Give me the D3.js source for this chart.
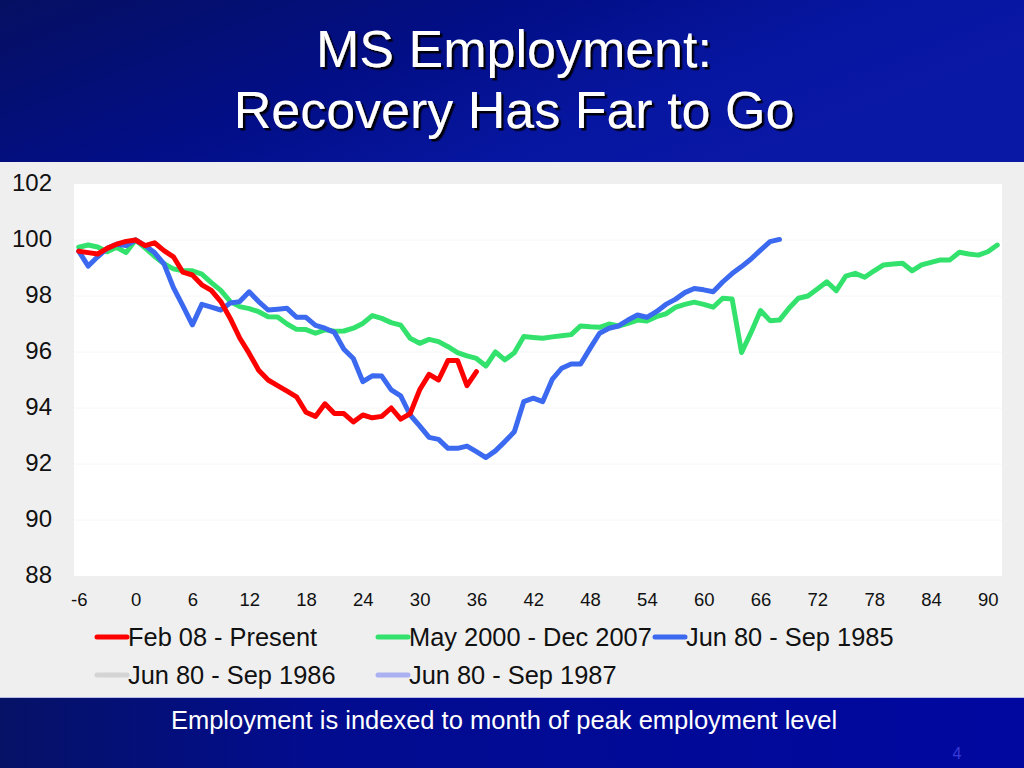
<!DOCTYPE html>
<html><head><meta charset="utf-8">
<script src="https://cdn.jsdelivr.net/npm/d3@7"></script>
<style>
html,body{margin:0;padding:0;background:#efefef;}
svg{display:block;font-family:"Liberation Sans",Arial,sans-serif;}
</style></head>
<body><svg id="c" width="1024" height="768"></svg>
<script>
// ---- data ----
const titleLines = ["MS Employment:", "Recovery Has Far to Go"];
const footnote = "Employment is indexed to month of peak employment level";
const pageNumber = "4";
const startMonth = -6;
const months = d3.range(-6, 92); // category axis -6 .. 91
const xTickLabels = [-6, 0, 6, 12, 18, 24, 30, 36, 42, 48, 54, 60, 66, 72, 78, 84, 90];
const yTickLabels = [88, 90, 92, 94, 96, 98, 100, 102];
const seriesNames = ["Feb 08 - Present", "May 2000 - Dec 2007", "Jun 80 - Sep 1985", "Jun 80 - Sep 1986", "Jun 80 - Sep 1987"];
const seriesColors = ["#ff0000", "#33e26c", "#3b69f0", "#d4d4d4", "#aab0f2"];

const feb08 = [99.6, 99.55, 99.5, 99.7, 99.85, 99.95, 100, 99.8, 99.9, 99.62, 99.4, 98.85, 98.75, 98.4, 98.2, 97.8, 97.2, 96.5, 95.95, 95.35, 95.0, 94.8, 94.6, 94.4, 93.85, 93.7, 94.15, 93.8, 93.8, 93.5, 93.75, 93.65, 93.7, 94.0, 93.6, 93.8, 94.65, 95.2, 95.0, 95.7, 95.7, 94.8, 95.3];
const may2000 = [99.74, 99.82, 99.75, 99.58, 99.74, 99.55, 100, 99.72, 99.42, 99.15, 98.97, 98.9, 98.9, 98.78, 98.48, 98.2, 97.8, 97.62, 97.55, 97.44, 97.26, 97.25, 97.0, 96.81, 96.8, 96.67, 96.79, 96.74, 96.75, 96.85, 97.02, 97.3, 97.2, 97.05, 96.96, 96.49, 96.31, 96.45, 96.37, 96.19, 95.98, 95.86, 95.77, 95.5, 96.0, 95.72, 95.97, 96.55, 96.52, 96.49, 96.54, 96.58, 96.62, 96.93, 96.9, 96.88, 97.0, 96.93, 97.02, 97.14, 97.11, 97.26, 97.36, 97.59, 97.7, 97.78, 97.7, 97.6, 97.92, 97.89, 95.98, 96.7, 97.48, 97.12, 97.14, 97.56, 97.92, 98.0, 98.25, 98.51, 98.19, 98.71, 98.81, 98.67, 98.9, 99.11, 99.14, 99.17, 98.9, 99.11, 99.2, 99.29, 99.29, 99.56, 99.5, 99.46, 99.58, 99.82];
const jun80_85 = [99.6, 99.07, 99.4, 99.7, 99.85, 99.8, 100, 99.8, 99.55, 99.15, 98.3, 97.65, 96.97, 97.7, 97.6, 97.5, 97.75, 97.8, 98.15, 97.8, 97.5, 97.53, 97.56, 97.24, 97.24, 96.95, 96.85, 96.7, 96.1, 95.77, 94.94, 95.15, 95.14, 94.65, 94.43, 93.75, 93.36, 92.95, 92.88, 92.56, 92.56, 92.64, 92.44, 92.23, 92.47, 92.8, 93.15, 94.23, 94.35, 94.23, 95.02, 95.42, 95.57, 95.57, 96.13, 96.67, 96.85, 96.93, 97.14, 97.32, 97.24, 97.44, 97.7, 97.88, 98.12, 98.27, 98.22, 98.15, 98.5, 98.8, 99.05, 99.32, 99.64, 99.94, 100.02];
const jun80_86 = [];
const jun80_87 = [];
const seriesValues = [feb08, may2000, jun80_85, jun80_86, jun80_87];

// ---- drawing ----
const svg = d3.select("#c");
const W = 1024, H = 768;
const defs = svg.append("defs");
const g1 = defs.append("linearGradient").attr("id", "topg").attr("x1", "0").attr("x2", "1").attr("y1", "0").attr("y2", "0.4");
g1.append("stop").attr("offset", "0").attr("stop-color", "#061062");
g1.append("stop").attr("offset", "0.45").attr("stop-color", "#020e86");
g1.append("stop").attr("offset", "0.75").attr("stop-color", "#0716a0");
g1.append("stop").attr("offset", "1").attr("stop-color", "#0a18a6");
const g2 = defs.append("linearGradient").attr("id", "botg").attr("x1", "0").attr("x2", "1").attr("y1", "0").attr("y2", "0");
g2.append("stop").attr("offset", "0").attr("stop-color", "#061266");
g2.append("stop").attr("offset", "0.3").attr("stop-color", "#020c8e");
g2.append("stop").attr("offset", "1").attr("stop-color", "#0008a0");
const shadow = defs.append("filter").attr("id", "tshadow").attr("x", "-5%").attr("y", "-20%").attr("width", "110%").attr("height", "140%");
shadow.append("feDropShadow").attr("dx", 2.5).attr("dy", 2.5).attr("stdDeviation", 0.6)
  .attr("flood-color", "#000010").attr("flood-opacity", 1);

svg.append("rect").attr("width", W).attr("height", H).attr("fill", "#efefef");
svg.append("rect").attr("x", 0).attr("y", 0).attr("width", W).attr("height", 162).attr("fill", "url(#topg)");
svg.append("rect").attr("x", 0).attr("y", 698).attr("width", W).attr("height", 70).attr("fill", "url(#botg)");
svg.append("line").attr("x1", 0).attr("x2", W).attr("y1", 697.5).attr("y2", 697.5).attr("stroke", "#b8bce6").attr("stroke-width", 1);

// title with shadow
titleLines.forEach((t, i) => {
  const ty = 67 + i * 61;
  svg.append("text").attr("x", 514).attr("y", ty).attr("text-anchor", "middle")
    .attr("font-size", 52).attr("fill", "#ffffff").attr("filter", "url(#tshadow)").text(t);
});

// plot
const pLeft = 74, pRight = 1002, pTop = 184, pBottom = 576;
const x = d3.scalePoint().domain(months).range([pLeft, pRight]).padding(0.5);
const y = d3.scaleLinear().domain([88, 102]).range([pBottom, pTop]);

svg.append("rect").attr("x", pLeft).attr("y", pTop).attr("width", pRight - pLeft).attr("height", pBottom - pTop).attr("fill", "#ffffff");
svg.append("g").selectAll("line").data(yTickLabels.slice(1, -1)).join("line")
  .attr("x1", pLeft).attr("x2", pRight).attr("y1", d => y(d)).attr("y2", d => y(d))
  .attr("stroke", "#f6f6f6").attr("stroke-width", 1);

// axes via d3 axis generators
const yAxis = d3.axisLeft(y).tickValues(yTickLabels).tickSize(0).tickPadding(0);
const yg = svg.append("g").attr("transform", "translate(52,0)").call(yAxis);
yg.select(".domain").remove();
yg.selectAll("text").attr("font-size", 24).attr("fill", "#111").attr("font-family", "Liberation Sans, Arial, sans-serif").attr("dy", "0.32em").attr("dx", 0).attr("transform", "translate(0,-1)");

const xAxis = d3.axisBottom(x).tickValues(xTickLabels).tickSize(0).tickPadding(0);
const xg = svg.append("g").attr("transform", "translate(0,593)").call(xAxis);
xg.select(".domain").remove();
xg.selectAll("text").attr("font-size", 18.5).attr("fill", "#111").attr("font-family", "Liberation Sans, Arial, sans-serif").attr("dy", "0.71em");

// lines
const line = d3.line().x(d => x(d.m)).y(d => y(d.v));
const drawOrder = [4, 3, 1, 2, 0];
drawOrder.forEach(si => {
  const vals = seriesValues[si];
  if (!vals.length) return;
  const pts = vals.map((v, i) => ({ m: startMonth + i, v }));
  svg.append("path").datum(pts).attr("d", line).attr("fill", "none")
    .attr("stroke", seriesColors[si]).attr("stroke-width", 5)
    .attr("stroke-linejoin", "round").attr("stroke-linecap", "round");
});

// legend
const legendPos = [[97, 637], [378, 637], [655, 637], [97, 675], [378, 675]];
seriesNames.forEach((n, i) => {
  const [lx, ly] = legendPos[i];
  svg.append("line").attr("x1", lx).attr("x2", lx + 30).attr("y1", ly).attr("y2", ly)
    .attr("stroke", seriesColors[i]).attr("stroke-width", 5).attr("stroke-linecap", "round");
  svg.append("text").attr("x", lx + 31).attr("y", ly).attr("dy", "0.35em")
    .attr("font-size", 25.4).attr("fill", "#111").text(n);
});

// footer
svg.append("text").attr("x", 504).attr("y", 729).attr("text-anchor", "middle")
  .attr("font-size", 25.5).attr("fill", "#ffffff").text(footnote);
svg.append("text").attr("x", 957).attr("y", 759).attr("text-anchor", "middle")
  .attr("font-size", 16).attr("fill", "#3a3ad6").text(pageNumber);
</script></body></html>
